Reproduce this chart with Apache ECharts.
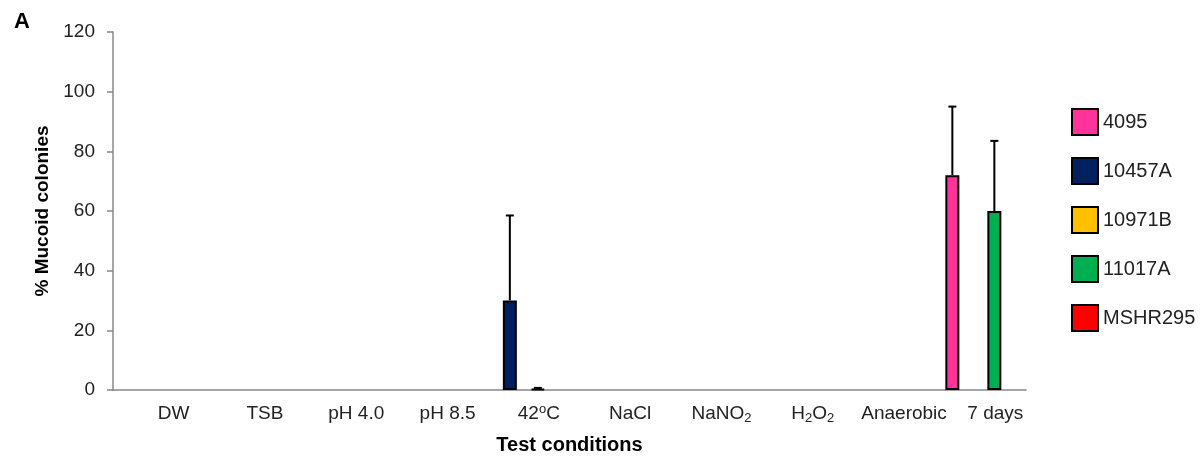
<!DOCTYPE html>
<html>
<head>
<meta charset="utf-8">
<script src="https://cdn.jsdelivr.net/npm/echarts@6/dist/echarts.min.js"></script>
<style>
  html, body { margin: 0; padding: 0; background: #fff; }
  #chart { width: 1204px; height: 460px; }
</style>
</head>
<body>
<div id="chart"></div>
<script>
// test conditions (x axis)
const categories = ['DW', 'TSB', 'pH 4.0', 'pH 8.5', '42oC', 'NaCl', 'NaNO2', 'H2O2', 'Anaerobic', '7 days']
const yTicks = [0, 20, 40, 60, 80, 100, 120]

// strains, % mucoid colonies and upper error
const strains = ['4095', '10457A', '10971B', '11017A', 'MSHR295']
const s4095 = [0, 0, 0, 0, 0, 0, 0, 0, 0, 72]
const e4095 = [0, 0, 0, 0, 0, 0, 0, 0, 0, 23]
const s10457A = [0, 0, 0, 0, 30, 0, 0, 0, 0, 0]
const e10457A = [0, 0, 0, 0, 28.5, 0, 0, 0, 0, 0]
const s10971B = [0, 0, 0, 0, 0, 0, 0, 0, 0, 0]
const e10971B = [0, 0, 0, 0, 0, 0, 0, 0, 0, 0]
const s11017A = [0, 0, 0, 0, 0.4, 0, 0, 0, 0, 60]
const e11017A = [0, 0, 0, 0, 0.3, 0, 0, 0, 0, 23.5]
const sMSHR295 = [0, 0, 0, 0, 0, 0, 0, 0, 0, 0]
const eMSHR295 = [0, 0, 0, 0, 0, 0, 0, 0, 0, 0]

const colors = ['#ff3399', '#002060', '#ffc000', '#00b050', '#ff0000']
const values = [s4095, s10457A, s10971B, s11017A, sMSHR295]
const errors = [e4095, e10457A, e10971B, e11017A, eMSHR295]

const BAR_W = 14

const labelMap = {
  '42oC': '42{sup|o}C',
  'NaNO2': 'NaNO{sub|2}',
  'H2O2': 'H{sub|2}O{sub|2}'
}

function errorRender (pos) {
  return function (params, api) {
    const idx = api.value(0)
    const val = api.value(1)
    const err = api.value(2)
    if (!err) return null
    const base = api.coord([idx, val])
    const top = api.coord([idx, val + err])
    const x = base[0] + (pos - 2) * BAR_W
    const style = { stroke: '#000', lineWidth: 2 }
    return {
      type: 'group',
      children: [
        { type: 'line', shape: { x1: x, y1: base[1], x2: x, y2: top[1] }, style: style },
        { type: 'line', shape: { x1: x - 4, y1: top[1], x2: x + 4, y2: top[1] }, style: style }
      ]
    }
  }
}

const series = []
strains.forEach((name, i) => {
  series.push({
    name: name,
    type: 'bar',
    barWidth: BAR_W,
    barGap: '0%',
    itemStyle: { color: colors[i], borderColor: '#000', borderWidth: 2 },
    data: values[i].map(v => (v === 0 ? '-' : v))
  })
})
strains.forEach((name, i) => {
  series.push({
    type: 'custom',
    renderItem: errorRender(i),
    z: 5,
    silent: true,
    data: values[i].map((v, k) => [k, v, errors[i][k]])
  })
})

const chart = echarts.init(document.getElementById('chart'), null, { renderer: 'canvas' })
chart.setOption({
  animation: false,
  textStyle: { fontFamily: 'Liberation Sans, Arial, sans-serif' },
  title: {
    text: 'A',
    left: 9,
    top: 6,
    textStyle: { fontSize: 22, fontWeight: 'bold', color: '#000' }
  },
  legend: {
    orient: 'vertical',
    left: 1071,
    top: 108,
    padding: 0,
    itemWidth: 26,
    itemHeight: 26,
    itemGap: 21,
    icon: 'rect',
    data: strains,
    textStyle: { fontSize: 20, color: '#222', padding: [0, 0, 0, 0] },
    itemStyle: { borderColor: '#000', borderWidth: 2 }
  },
  grid: { left: 113, right: 178, top: 32, bottom: 70 },
  xAxis: {
    type: 'category',
    data: categories,
    name: 'Test conditions',
    nameLocation: 'middle',
    nameGap: 45,
    nameTextStyle: { fontSize: 20, fontWeight: 'bold', color: '#000' },
    axisLine: { lineStyle: { color: '#888', width: 1.5 } },
    axisTick: { length: 6, lineStyle: { color: '#888', width: 1.5 } },
    axisLabel: {
      interval: 0,
      margin: 13,
      fontSize: 19,
      color: '#222',
      lineHeight: 22,
      padding: [0, 0, 0, 30],
      formatter: v => labelMap[v] || v,
      rich: {
        sub: { fontSize: 13, lineHeight: 10, verticalAlign: 'bottom', color: '#222' },
        sup: { fontSize: 13, lineHeight: 10, verticalAlign: 'top', color: '#222' }
      }
    }
  },
  yAxis: {
    type: 'value',
    min: yTicks[0],
    max: yTicks[yTicks.length - 1],
    interval: yTicks[1] - yTicks[0],
    name: '% Mucoid colonies',
    nameLocation: 'middle',
    nameGap: 61,
    nameTextStyle: { fontSize: 19, fontWeight: 'bold', color: '#000' },
    splitLine: { show: false },
    axisLine: { show: true, lineStyle: { color: '#888', width: 1.5 } },
    axisTick: { show: true, length: 6, lineStyle: { color: '#888', width: 1.5 } },
    axisLabel: { fontSize: 19, color: '#222', margin: 18 }
  },
  series: series
})
</script>
</body>
</html>
